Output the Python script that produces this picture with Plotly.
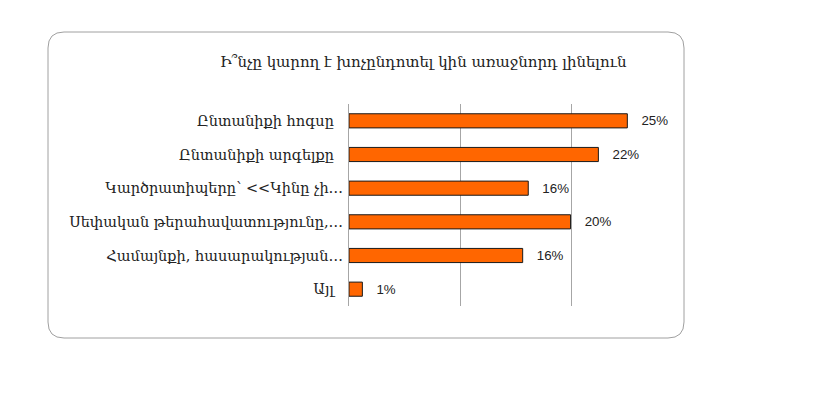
import plotly.graph_objects as go

categories = [
    "Ընտանիքի հոգսը\u00a0\u00a0",
    "Ընտանիքի արգելքը\u00a0\u00a0",
    "Կարծրատիպերը՝ <<Կինը չի…",
    "Սեփական թերահավատությունը,…",
    "Համայնքի, հասարակության…",
    "Այլ\u00a0\u00a0",
]
values = [0.250, 0.224, 0.161, 0.199, 0.156, 0.012]
title_text = "Ի՞նչը կարող է խոչընդոտել կին առաջնորդ լինելուն"

OFF = 8  # page body margin
W, H = 817, 396
L, R, T, B = 349 - OFF, 683 - OFF, 104 - OFF, 306 - OFF

fig = go.Figure(go.Bar(
    x=values, y=categories, orientation="h",
    marker=dict(color="#FF6600", line=dict(color="#1a1a1a", width=1)),
    width=0.42,
    texttemplate="   %{x:.0%}", textposition="outside",
    textfont=dict(family="Liberation Sans, Arial", size=16, color="#222"),
    cliponaxis=False,
))

pw, ph = R - L, B - T
def px(x): return (x - OFF - L) / pw
def py(y): return (B - (y - OFF)) / ph
x0, x1, y0, y1, r = 48, 684, 32, 338, 16
path = (f"M {px(x0+r)},{py(y0)} L {px(x1-r)},{py(y0)} Q {px(x1)},{py(y0)} {px(x1)},{py(y0+r)} "
        f"L {px(x1)},{py(y1-r)} Q {px(x1)},{py(y1)} {px(x1-r)},{py(y1)} "
        f"L {px(x0+r)},{py(y1)} Q {px(x0)},{py(y1)} {px(x0)},{py(y1-r)} "
        f"L {px(x0)},{py(y0+r)} Q {px(x0)},{py(y0)} {px(x0+r)},{py(y0)} Z")

fig.update_layout(
    width=W, height=H,
    margin=dict(l=L, r=W - R, t=T, b=H - B),
    paper_bgcolor="white", plot_bgcolor="white",
    showlegend=False,
    xaxis=dict(range=[0, 0.30], dtick=0.10, showgrid=True, gridcolor="#A6A6A6",
               gridwidth=1, showticklabels=False, zeroline=False, showline=False),
    yaxis=dict(autorange="reversed", showline=True, linecolor="#A6A6A6", linewidth=1,
               ticks="", tickfont=dict(family="DejaVu Serif", size=14.5, color="#222"),
               ticklabelstandoff=2),
    shapes=[dict(type="path", path=path, xref="paper", yref="paper",
                 line=dict(color="#A0A0A0", width=1), fillcolor="rgba(0,0,0,0)", layer="below")],
    annotations=[dict(text=title_text, xref="paper", yref="paper", x=px(423), y=py(62),
                      xanchor="center", yanchor="middle", showarrow=False,
                      font=dict(family="DejaVu Serif", size=15, color="#222"))],
)

fig.write_html("out.html")
